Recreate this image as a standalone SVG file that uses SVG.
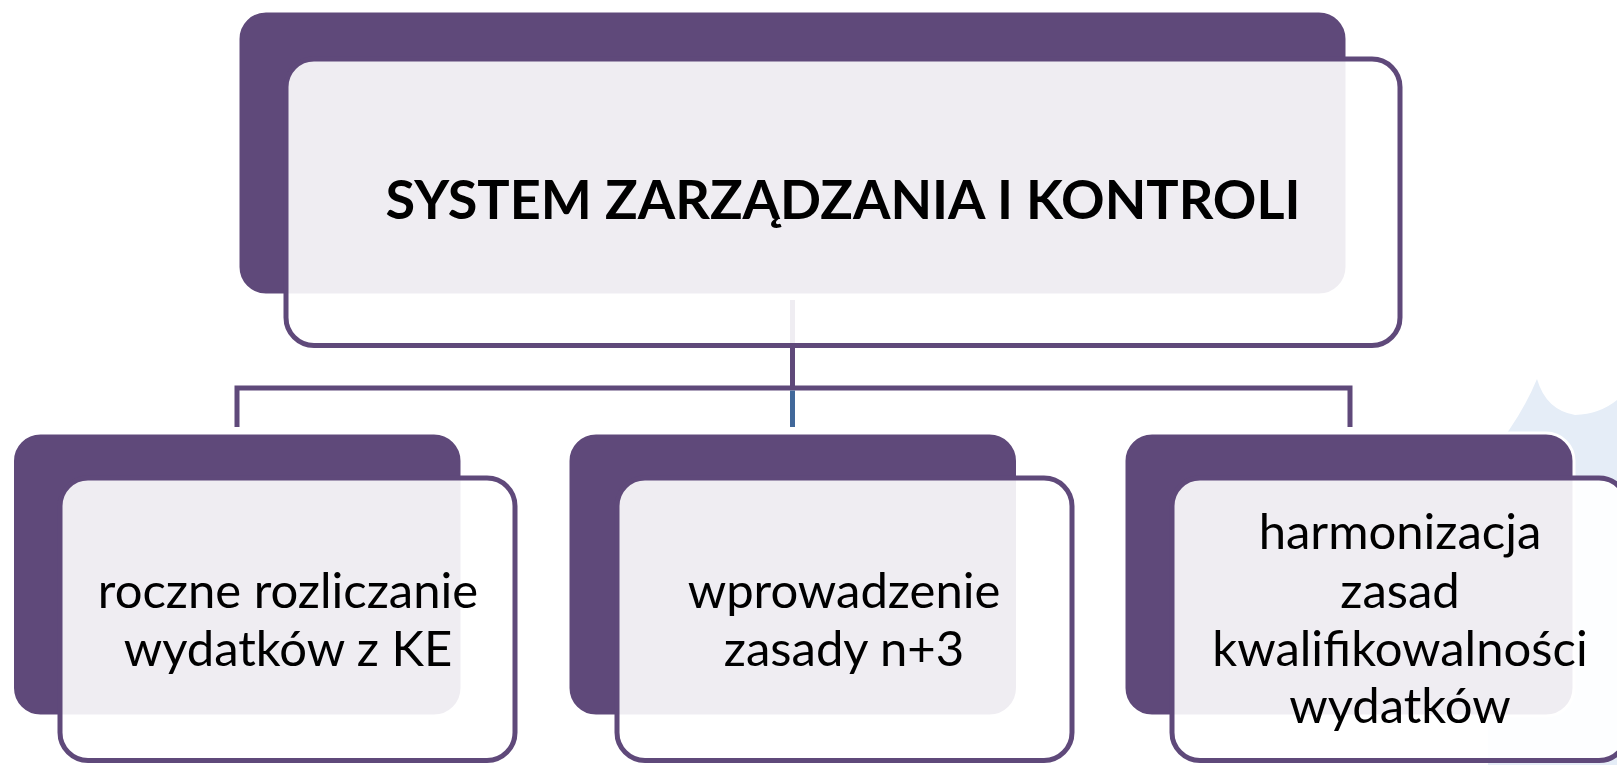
<svg xmlns="http://www.w3.org/2000/svg" width="1617" height="765" viewBox="0 0 1617 765">
  <style>
    .back { fill: #5F497A; stroke: #FFFFFF; stroke-width: 3; }
    .front { fill: #FFFFFF; fill-opacity: 0.9; stroke: #5F497A; stroke-width: 5; }
    .conn { fill: none; stroke: #5F497A; stroke-width: 5; }
    .conn-blue { fill: none; stroke: #41689A; stroke-width: 5; }
    .title { font-family: Lato, "Liberation Sans", sans-serif; font-weight: bold; font-size: 54px; fill: #000000; text-anchor: middle; }
    .label { font-family: Lato, "Liberation Sans", sans-serif; font-size: 49px; fill: #000000; text-anchor: middle; }
  </style>
  <rect x="0" y="0" width="1617" height="765" fill="#FFFFFF"/>
  <path id="bg-decoration" d="M1488,458 Q1521,418 1537,379 Q1546,410 1575,415 Q1600,414 1617,400 L1617,765 L1488,765 Z" fill="#E5EDF7"/>
  <g id="connectors">
    <line class="conn" x1="792.5" y1="300" x2="792.5" y2="388"/>
    <path class="conn" d="M237,427 V388 H1350 V427"/>
    <line class="conn-blue" x1="792.5" y1="390.5" x2="792.5" y2="427"/>
  </g>
  <g id="node-top">
    <rect class="back" x="238" y="11" width="1109" height="284" rx="28" ry="28"/>
    <rect class="front" x="286" y="59" width="1114" height="286.5" rx="28" ry="28"/>
    <text class="title" x="843" y="219">SYSTEM ZARZĄDZANIA I KONTROLI</text>
  </g>
  <g id="node-1">
    <rect class="back" x="12.5" y="433" width="449.5" height="283" rx="28" ry="28"/>
    <rect class="front" x="60" y="478" width="455" height="282.5" rx="28" ry="28"/>
    <text class="label" x="288" y="608">roczne rozliczanie</text>
    <text class="label" x="288" y="666">wydatków z KE</text>
  </g>
  <g id="node-2">
    <rect class="back" x="568" y="433" width="449.5" height="283" rx="28" ry="28"/>
    <rect class="front" x="617" y="478" width="455" height="282.5" rx="28" ry="28"/>
    <text class="label" x="844" y="608">wprowadzenie</text>
    <text class="label" x="844" y="666">zasady n+3</text>
  </g>
  <g id="node-3">
    <rect class="back" x="1124" y="433" width="450" height="283" rx="28" ry="28"/>
    <rect class="front" x="1172" y="478" width="455" height="282.5" rx="28" ry="28"/>
    <text class="label" x="1400" y="549">harmonizacja</text>
    <text class="label" x="1400" y="608">zasad</text>
    <text class="label" x="1400" y="666">kwalifikowalności</text>
    <text class="label" x="1400" y="723">wydatków</text>
  </g>
</svg>
